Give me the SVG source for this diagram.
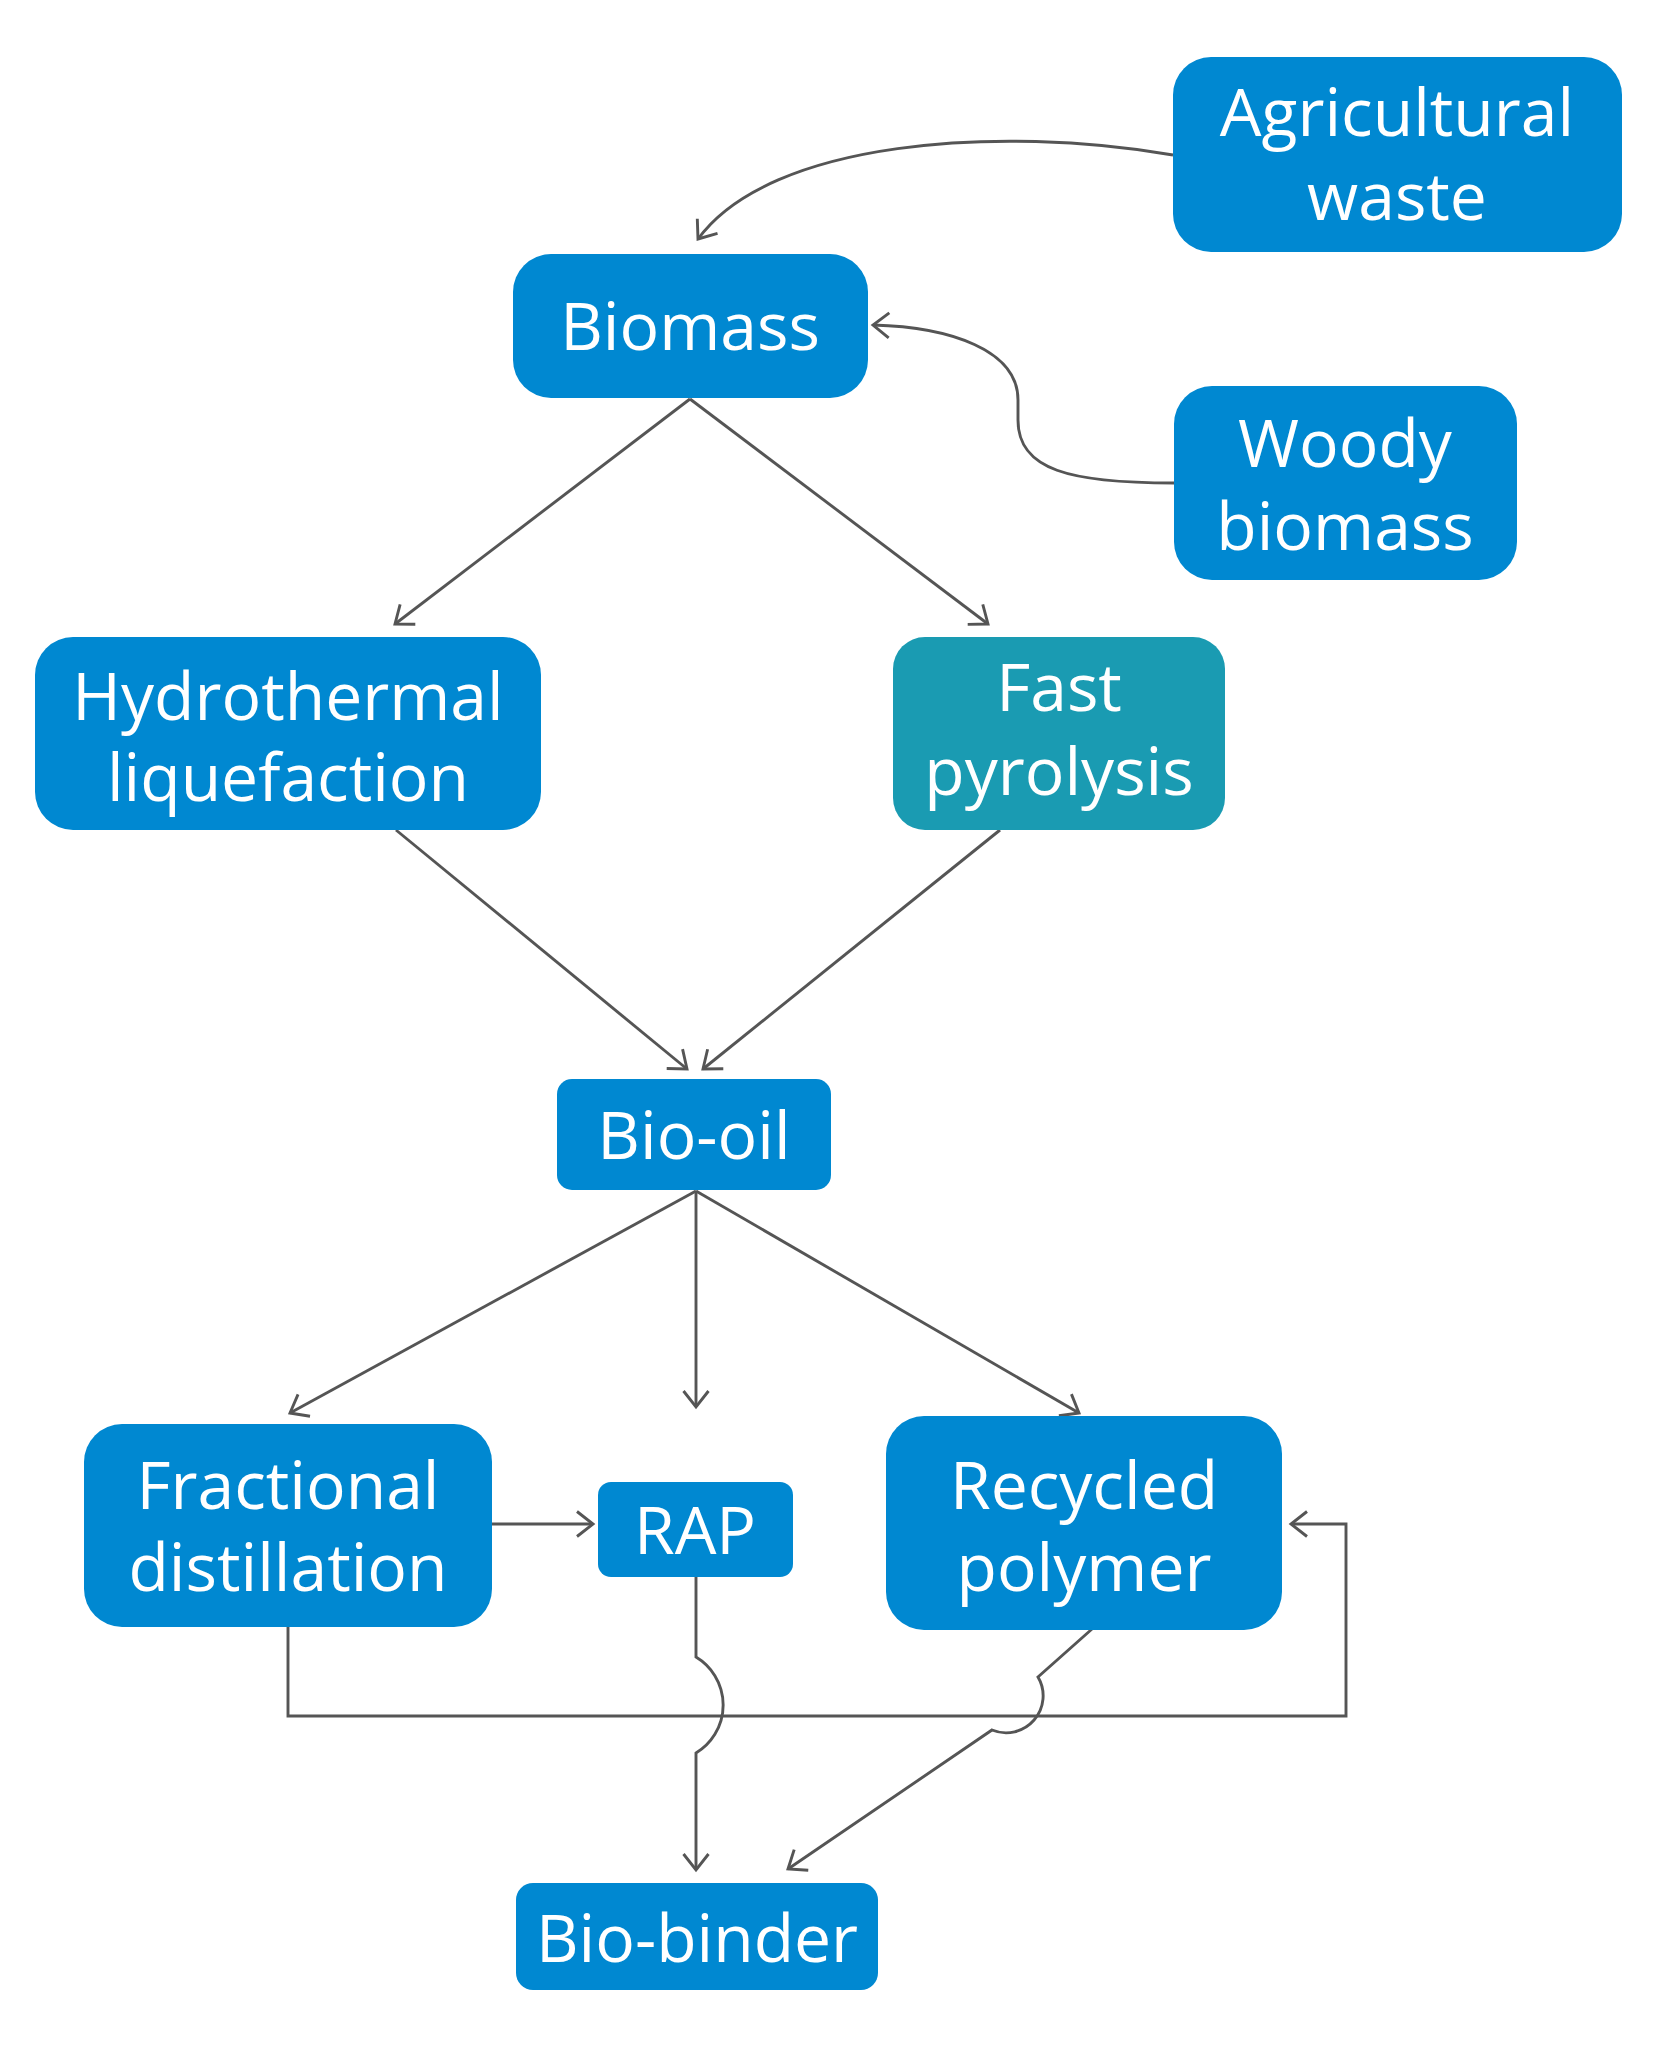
<svg xmlns="http://www.w3.org/2000/svg" width="1659" height="2048" viewBox="0 0 1659 2048">
<style>
.box{fill:#0088d1}
.teal{fill:#1a9bb2}
.lbl{fill:#ffffff;font-family:"Open Sans","Noto Sans","Liberation Sans",sans-serif;font-size:66px;text-anchor:middle}
.conn{fill:none;stroke:#555555;stroke-width:2.9;stroke-linejoin:miter}
</style>
<defs>
<marker id="arr" markerUnits="userSpaceOnUse" markerWidth="26" markerHeight="32" viewBox="-22 -16 26 32" refX="0" refY="0" orient="auto">
<path d="M-16,-12.5 L0,0 L-16,12.5" fill="none" stroke="#555555" stroke-width="2.9"/>
</marker>
</defs>
<rect width="1659" height="2048" fill="#ffffff"/>
<g id="connectors">
<path class="conn" d="M1173,155 C1000,125 770,140 698,239" marker-end="url(#arr)"/>
<path class="conn" d="M1174,483 C1070,483 1018,470 1018,420 L1018,400 C1018,350 950,327 873,325" marker-end="url(#arr)"/>
<path class="conn" d="M690,399 L395,624" marker-end="url(#arr)"/>
<path class="conn" d="M690,399 L988,624" marker-end="url(#arr)"/>
<path class="conn" d="M396,830 L687,1069" marker-end="url(#arr)"/>
<path class="conn" d="M1000,830 L703,1069" marker-end="url(#arr)"/>
<path class="conn" d="M696,1191 L290,1413" marker-end="url(#arr)"/>
<path class="conn" d="M696,1191 L696,1407" marker-end="url(#arr)"/>
<path class="conn" d="M696,1191 L1079,1413" marker-end="url(#arr)"/>
<path class="conn" d="M492,1524 L593,1524" marker-end="url(#arr)"/>
<path class="conn" d="M288,1627 L288,1716 L1346,1716 L1346,1524 L1291,1524" marker-end="url(#arr)"/>
<path class="conn" d="M696,1577 L696,1657 A56,56 0 0 1 696,1753 L696,1870" marker-end="url(#arr)"/>
<path class="conn" d="M1092,1629 L1038,1677 A37,37 0 0 1 992,1730 L788,1869" marker-end="url(#arr)"/>
</g>
<g id="agricultural-waste">
<rect class="box" x="1173" y="57" width="449" height="195" rx="38"/>
<text class="lbl"><tspan x="1397" y="136">Agricultural</tspan><tspan x="1397" y="220">waste</tspan></text>
</g>
<g id="biomass">
<rect class="box" x="513" y="254" width="355" height="144" rx="38"/>
<text class="lbl" x="690" y="350">Biomass</text>
</g>
<g id="woody-biomass">
<rect class="box" x="1174" y="386" width="343" height="194" rx="38"/>
<text class="lbl"><tspan x="1345" y="467">Woody</tspan><tspan x="1345" y="550">biomass</tspan></text>
</g>
<g id="hydrothermal-liquefaction">
<rect class="box" x="35" y="637" width="506" height="193" rx="38"/>
<text class="lbl"><tspan x="288" y="720">Hydrothermal</tspan><tspan x="288" y="801">liquefaction</tspan></text>
</g>
<g id="fast-pyrolysis">
<rect class="teal" x="893" y="637" width="332" height="193" rx="32"/>
<text class="lbl"><tspan x="1059" y="711">Fast</tspan><tspan x="1059" y="795">pyrolysis</tspan></text>
</g>
<g id="bio-oil">
<rect class="box" x="557" y="1079" width="274" height="111" rx="15"/>
<text class="lbl" x="694" y="1159">Bio-oil</text>
</g>
<g id="fractional-distillation">
<rect class="box" x="84" y="1424" width="408" height="203" rx="38"/>
<text class="lbl"><tspan x="288" y="1509">Fractional</tspan><tspan x="288" y="1591">distillation</tspan></text>
</g>
<g id="rap">
<rect class="box" x="598" y="1482" width="195" height="95" rx="13"/>
<text class="lbl" x="695" y="1554">RAP</text>
</g>
<g id="recycled-polymer">
<rect class="box" x="886" y="1416" width="396" height="214" rx="38"/>
<text class="lbl"><tspan x="1084" y="1509">Recycled</tspan><tspan x="1084" y="1591">polymer</tspan></text>
</g>
<g id="bio-binder">
<rect class="box" x="516" y="1883" width="362" height="107" rx="17"/>
<text class="lbl" x="697" y="1962">Bio-binder</text>
</g>
</svg>
